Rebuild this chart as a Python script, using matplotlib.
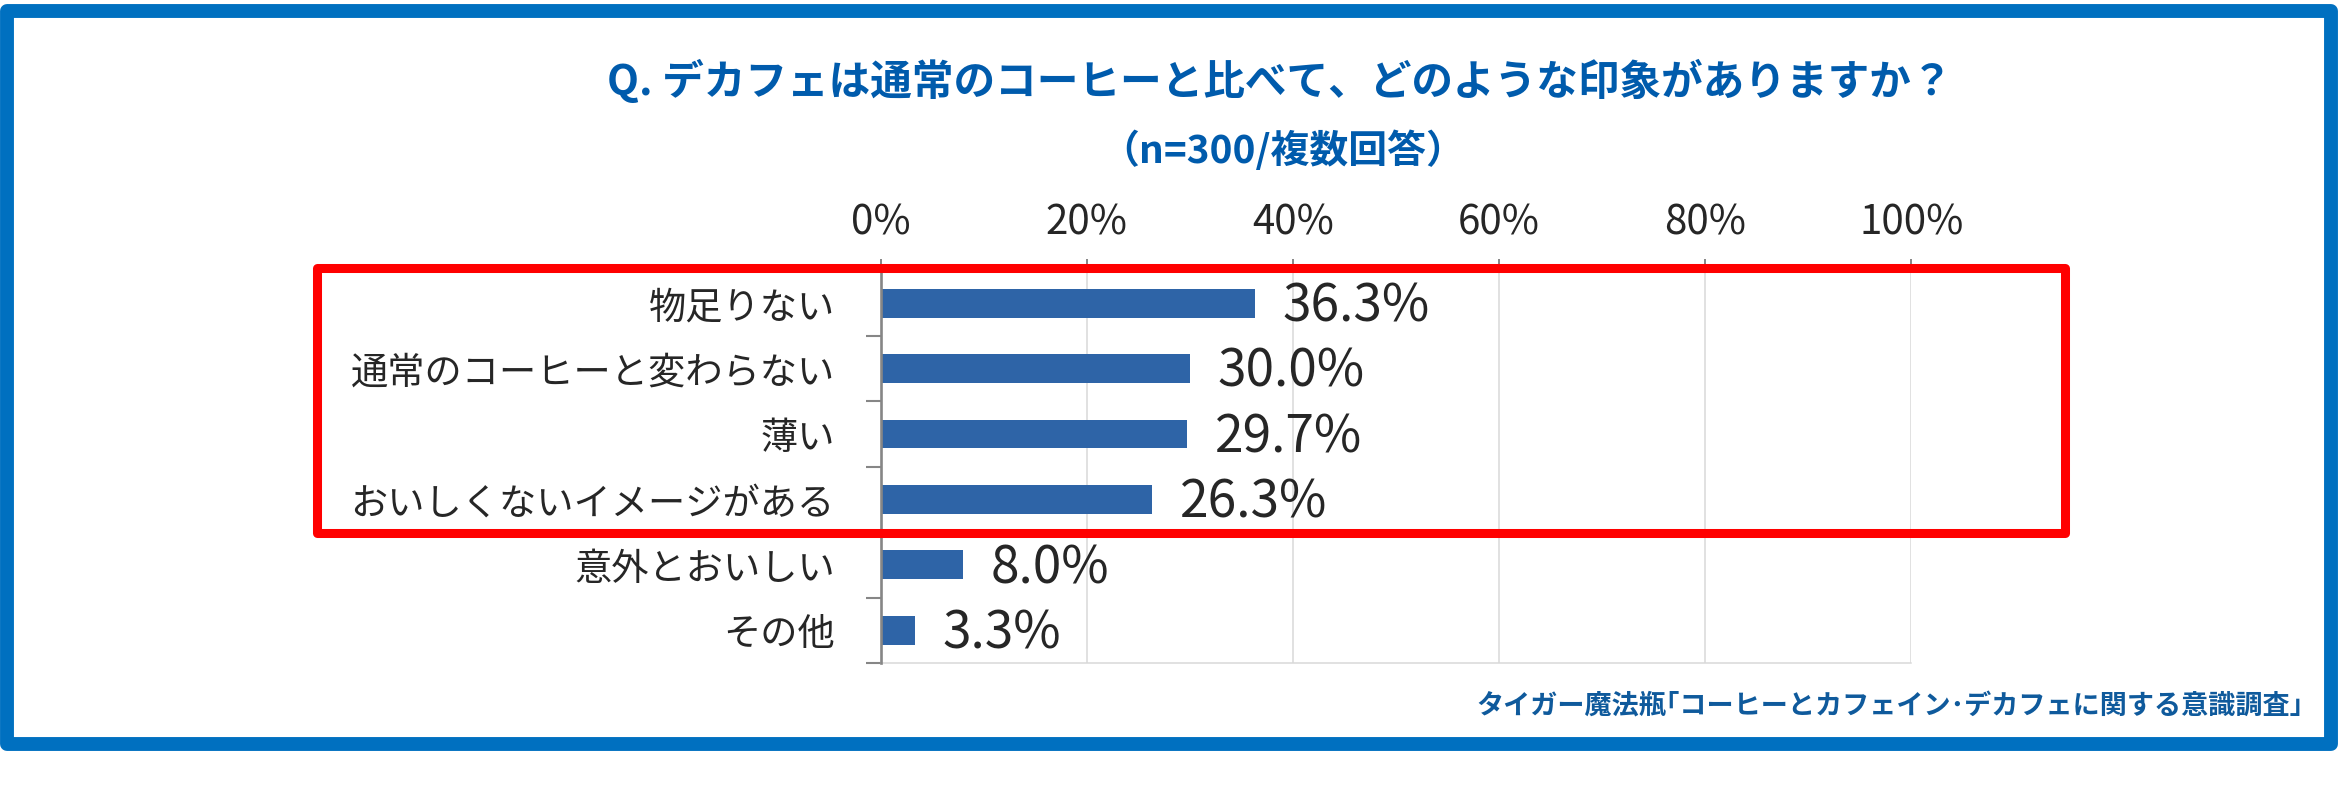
import matplotlib
matplotlib.use("Agg")
import matplotlib.pyplot as plt
from matplotlib.patches import Rectangle

plt.rcParams['font.family'] = ['Noto Sans CJK JP', 'DejaVu Sans']

# data
categories = ['物足りない', '通常のコーヒーと変わらない', '薄い',
              'おいしくないイメージがある', '意外とおいしい', 'その他']
values = [36.3, 30.0, 29.7, 26.3, 8.0, 3.3]
x_ticks = [0, 20, 40, 60, 80, 100]
x_tick_labels = ['0%', '20%', '40%', '60%', '80%', '100%']

title = 'Q. デカフェは通常のコーヒーと比べて、どのような印象がありますか？'
subtitle = '（n=300/複数回答）'
source = 'タイガー魔法瓶｢コーヒーとカフェイン･デカフェに関する意識調査｣'

W, H = 2338, 789
fig = plt.figure(figsize=(W / 100, H / 100), dpi=100)

# plot area in pixels
left, right, top, bottom = 880.7, 1911.5, 270.5, 663
ax = fig.add_axes([left / W, 1 - bottom / H, (right - left) / W, (bottom - top) / H])

pos = list(range(len(categories)))
ax.barh(pos, values, height=0.44, color='#2E64A7', zorder=3)
ax.set_xlim(0, 100)
ax.set_ylim(len(categories) - 0.5, -0.5)

for i, v in enumerate(values):
    ax.annotate(f'{v:.1f}%', xy=(v, i), xytext=(20, -2.5), textcoords='offset points',
                va='center', ha='left', fontsize=37, color='#262626')

# x axis on top
ax.xaxis.tick_top()
ax.set_xticks(x_ticks)
ax.set_xticklabels(x_tick_labels)
ax.tick_params(axis='x', which='major', direction='out', length=8.6, width=1.4,
               color='#868686', pad=10.5, labelsize=29, labelcolor='#262626')
ax.grid(axis='x', color='#D9D9D9', linewidth=1.1, zorder=0)

# y axis categories
ax.set_yticks(pos)
ax.set_yticklabels(categories)
ax.set_yticks([p - 0.5 for p in pos] + [len(pos) - 0.5], minor=True)
ax.tick_params(axis='y', which='major', length=0, pad=33, labelsize=26.8,
               labelcolor='#262626')
ax.tick_params(axis='y', which='minor', length=10.8, width=1.5, color='#868686')

ax.spines['top'].set_visible(False)
ax.spines['right'].set_visible(False)
ax.spines['bottom'].set_color('#D9D9D9')
ax.spines['bottom'].set_linewidth(1.1)
ax.spines['left'].set_color('#868686')
ax.spines['left'].set_linewidth(1.9)
ax.spines['left'].set_zorder(4)

# titles
fig.text(1280 / W, 1 - 81.5 / H, title, ha='center', va='center',
         fontsize=30, fontweight='bold', color='#005BAC')
fig.text(1283 / W, 1 - 151 / H, subtitle, ha='center', va='center',
         fontsize=28, fontweight='bold', color='#005BAC')
fig.text(2304 / W, 1 - 706.5 / H, source, ha='right', va='center',
         fontsize=19.5, fontweight='bold', color='#0F5A9C')

# red highlight box
x0, x1, y0, y1 = 316.7, 2064.5, 267.7, 532.5
fig.add_artist(Rectangle((x0 / W, 1 - y1 / H), (x1 - x0) / W, (y1 - y0) / H,
                         transform=fig.transFigure, fill=False, edgecolor='#FF0000',
                         linewidth=6.5, joinstyle='round', zorder=10))

# blue outer frame
bx0, bx1, by0, by1 = 7, 2330.5, 11, 743.5
fig.add_artist(Rectangle((bx0 / W, 1 - by1 / H), (bx1 - bx0) / W, (by1 - by0) / H,
                         transform=fig.transFigure, fill=False, edgecolor='#0070C0',
                         linewidth=10, joinstyle='round', zorder=10))

fig.savefig('out.png', dpi=100)
